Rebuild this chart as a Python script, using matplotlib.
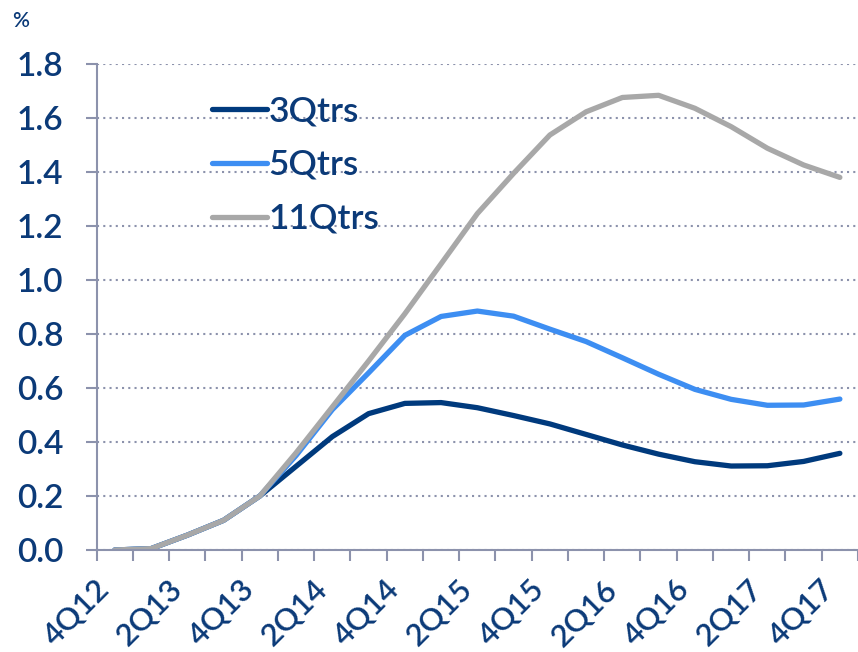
import matplotlib.pyplot as plt
import numpy as np

plt.rcParams['font.family'] = ['Lato', 'DejaVu Sans']
plt.rcParams['font.weight'] = 'semibold'

# %%
quarters = ['4Q12', '1Q13', '2Q13', '3Q13', '4Q13', '1Q14', '2Q14', '3Q14',
            '4Q14', '1Q15', '2Q15', '3Q15', '4Q15', '1Q16', '2Q16', '3Q16',
            '4Q16', '1Q17', '2Q17', '3Q17', '4Q17']
q3 = [0.0, 0.005, 0.055, 0.11, 0.20, 0.31, 0.42, 0.505, 0.543, 0.546,
      0.527, 0.498, 0.467, 0.428, 0.389, 0.355, 0.327, 0.311, 0.312,
      0.328, 0.358]
q5 = [0.0, 0.005, 0.055, 0.11, 0.20, 0.35, 0.52, 0.656, 0.795, 0.865,
      0.885, 0.866, 0.818, 0.772, 0.712, 0.651, 0.595, 0.558, 0.536,
      0.537, 0.559]
q11 = [0.0, 0.005, 0.055, 0.11, 0.20, 0.36, 0.53, 0.70, 0.875, 1.06,
       1.246, 1.395, 1.537, 1.623, 1.676, 1.684, 1.636, 1.568, 1.488,
       1.426, 1.380]
series_names = ['3Qtrs', '5Qtrs', '11Qtrs']
colors = ['#003A7D', '#3D8EF2', '#A8A8A8']

txt_col = '#0B3A78'
axis_col = '#8C92AC'

# %%
fig = plt.figure(figsize=(8.58, 6.52), dpi=100)
ax = fig.add_axes([96.7 / 858, 102 / 652, (858 - 96.7) / 858, 486 / 652])

x = np.arange(len(quarters))
for vals, name, c in zip([q3, q5, q11], series_names, colors):
    ax.plot(x, vals, color=c, lw=3.8, label=name, solid_capstyle='round',
            solid_joinstyle='round')

ax.set_xlim(-0.5, len(quarters) - 0.5)
ax.set_ylim(0, 1.8)
ax.set_yticks(np.arange(0, 1.81, 0.2))
ax.set_yticklabels(['%.1f' % v for v in np.arange(0, 1.81, 0.2)])
ax.grid(axis='y', ls=(0, (1, 2)), color=axis_col, lw=1.5)
ax.set_axisbelow(True)

ax.set_xticks(x[::2])
ax.set_xticklabels([quarters[i] for i in range(0, len(quarters), 2)],
                   rotation=45, ha='right', va='top')
ax.set_xticks(np.arange(-0.5, len(quarters), 1), minor=True)
ax.tick_params(axis='x', which='major', length=0, pad=18, labelsize=22.5,
               labelcolor=txt_col)
ax.tick_params(axis='x', which='minor', length=8, width=1.5, color=axis_col,
               direction='out')
ax.tick_params(axis='y', length=8, width=1.5, color=axis_col, pad=16,
               labelsize=24, labelcolor=txt_col)

for s in ['top', 'right']:
    ax.spines[s].set_visible(False)
for s in ['left', 'bottom']:
    ax.spines[s].set_color(axis_col)
    ax.spines[s].set_linewidth(1.5)

leg = ax.legend(loc='upper left', bbox_to_anchor=(212 / 858, 1 - 95 / 652),
                bbox_transform=fig.transFigure, frameon=False, fontsize=25.5,
                handlelength=1.55, handletextpad=0.05, labelspacing=0.62,
                borderpad=0, borderaxespad=0)
for t in leg.get_texts():
    t.set_color(txt_col)

fig.text(12 / 858, 1 - 27 / 652, '%', fontsize=15, color=txt_col)

fig.savefig('out.png', dpi=100)
